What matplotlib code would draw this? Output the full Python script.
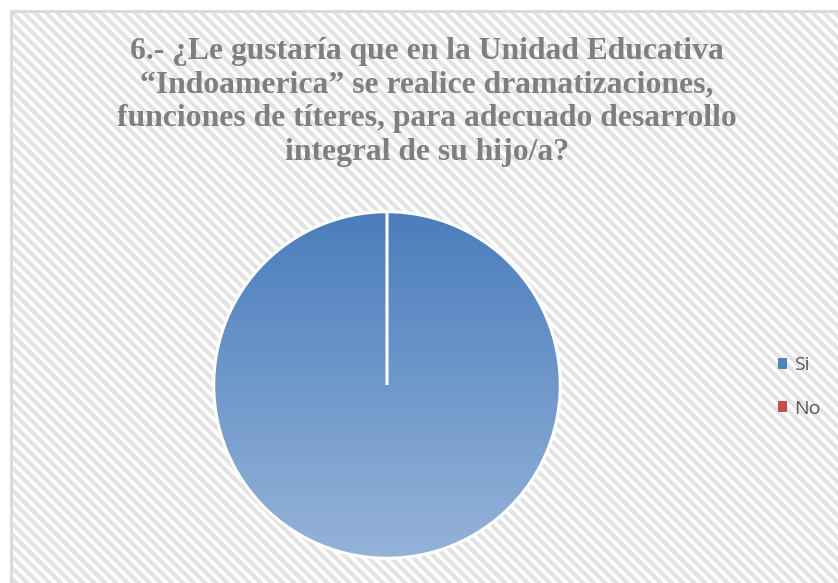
import numpy as np
import matplotlib.pyplot as plt
from matplotlib.patches import Rectangle, Patch

# datos de la encuesta
categories = ["Si", "No"]
values = [100, 0]
title = ("6.- ¿Le gustaría que en la Unidad Educativa\n"
         "“Indoamerica” se realice dramatizaciones,\n"
         "funciones de títeres, para adecuado desarrollo\n"
         "integral de su hijo/a?")

colors = ["#4F81BD", "#C0504D"]
grad_top = np.array([0x4A, 0x7D, 0xBB]) / 255
grad_bot = np.array([0x95, 0xB3, 0xD9]) / 255

W, H = 838, 583
plt.rcParams['hatch.linewidth'] = 3.0
fig = plt.figure(figsize=(W / 100, H / 100), dpi=100)
fig.patch.set_facecolor("white")

# fondo rayado del area del grafico
x0, y0 = 11 / W, 0
fig.patches.append(Rectangle((x0, y0), 1 - x0, 1 - 11 / H - y0,
                             transform=fig.transFigure, facecolor="white",
                             edgecolor="#E3E3E3", hatch="\\\\\\", linewidth=0,
                             zorder=-2))
fig.patches.append(Rectangle((x0, y0 - 0.01), 1 - x0 + 0.01, 1 - 11 / H + 0.01,
                             transform=fig.transFigure, facecolor="none",
                             edgecolor="#D9D9D9", linewidth=2, zorder=-1))

fig.text(427 / W, 1 - 102 / H, title, ha="center", va="center",
         fontsize=22.8, fontweight="bold", family="Liberation Serif",
         color="#7F7F7F", linespacing=1.22)

# pastel
r_px = 175
cx, cy = 387, 385
ax = fig.add_axes([(cx - r_px) / W, (H - cy - r_px) / H, 2 * r_px / W, 2 * r_px / H])
ax.set_facecolor("none")
wedges, _ = ax.pie(values, colors=colors, startangle=90, counterclock=False,
                   wedgeprops=dict(edgecolor="white", linewidth=2.2))
ax.set_xlim(-1.01, 1.01)
ax.set_ylim(-1.01, 1.01)
ax.set_aspect("equal")
ax.axis("off")

# degradado vertical recortado al sector "Si"
t = np.linspace(0, 1, 256)[:, None]
grad = grad_top[None, None, :] * (1 - t[:, :, None]) + grad_bot[None, None, :] * t[:, :, None]
img = ax.imshow(grad, extent=[-1, 1, -1, 1], origin="upper", aspect="auto", zorder=1)
img.set_clip_path(wedges[0])
for w in wedges:
    w.set_zorder(2)
    w.set_facecolor("none")

# leyenda
handles = [Patch(facecolor=c, edgecolor="none") for c in colors]
fig.legend(handles, categories, loc="center left",
           bbox_to_anchor=(760 / W, 1 - 387 / H), frameon=False,
           handlelength=0.5, handleheight=0.5, handletextpad=0.35,
           labelspacing=1.3, prop={"family": "Open Sans", "size": 14},
           labelcolor="#595959")

fig.savefig("out.png", dpi=100)
